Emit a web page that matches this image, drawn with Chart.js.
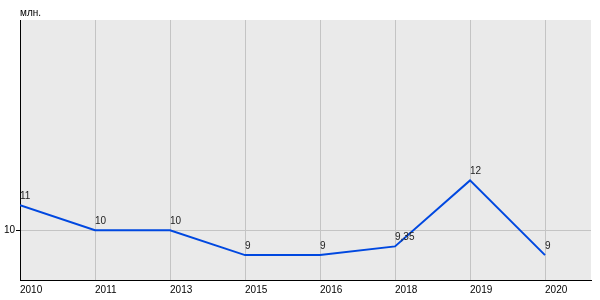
<!DOCTYPE html>
<html>
<head>
<meta charset="utf-8">
<script src="https://cdn.jsdelivr.net/npm/chart.js@4"></script>
<style>
  html, body { margin: 0; padding: 0; background: #fff; }
  canvas { display: block; }
</style>
</head>
<body>
<canvas id="grafico" width="600" height="300"></canvas>
<script>
const anios = ['2010', '2011', '2013', '2015', '2016', '2018', '2019', '2020']
const valores = [11, 10, 10, 9, 9, 9.35, 12, 9]
const etiquetas = ['11', '10', '10', '9', '9', '9,35', '12', '9']
const ticksY = [10]
const unidad = 'млн.'

const fuente = { family: 'Arial, "Liberation Sans", sans-serif', size: 10 }

// fondo gris del área de trazado
const fondo = {
  id: 'fondo',
  beforeDraw(chart) {
    const { ctx, chartArea: a } = chart
    ctx.save()
    ctx.fillStyle = '#eaeaea'
    ctx.fillRect(a.left, a.top, a.right - a.left, a.bottom - a.top)
    ctx.restore()
  }
}

// etiquetas de valores y unidad
const textos = {
  id: 'textos',
  afterDatasetsDraw(chart) {
    const { ctx } = chart
    const meta = chart.getDatasetMeta(0)
    ctx.save()
    ctx.font = '10px Arial, "Liberation Sans", sans-serif'
    ctx.fillStyle = '#222'
    ctx.textAlign = 'left'
    ctx.textBaseline = 'bottom'
    meta.data.forEach((p, i) => {
      ctx.fillText(etiquetas[i], p.x, p.y - 4)
    })
    ctx.fillStyle = '#000'
    ctx.textBaseline = 'alphabetic'
    ctx.fillText(unidad, 20, 16)
    ctx.restore()
  }
}

new Chart(document.getElementById('grafico'), {
  type: 'line',
  data: {
    datasets: [{
      data: valores.map((v, i) => ({ x: i, y: v })),
      borderColor: '#0048e0',
      borderWidth: 2,
      pointRadius: 0,
      tension: 0,
      fill: false
    }]
  },
  options: {
    responsive: false,
    animation: false,
    layout: { padding: { left: 0, top: 20, right: 9, bottom: 0 } },
    plugins: { legend: { display: false }, tooltip: { enabled: false } },
    scales: {
      x: {
        type: 'linear',
        min: 0,
        max: 7.613,
        afterBuildTicks: s => { s.ticks = anios.map((a, i) => ({ value: i })) },
        afterFit: s => { s.height = 20 },
        ticks: {
          callback: v => anios[v],
          color: '#000',
          font: fuente,
          align: 'start',
          maxRotation: 0,
          padding: 4
        },
        grid: { color: '#c4c4c4', lineWidth: 1, drawTicks: false },
        border: { color: '#000', width: 1 }
      },
      y: {
        min: 8,
        max: 18.44,
        afterBuildTicks: s => { s.ticks = ticksY.map(v => ({ value: v })) },
        afterFit: s => { s.width = 20 },
        ticks: { color: '#000', font: fuente, padding: 1 },
        grid: { color: '#c4c4c4', lineWidth: 1, drawTicks: true, tickLength: 4, tickColor: '#000' },
        border: { color: '#000', width: 1 }
      }
    }
  },
  plugins: [fondo, textos]
})
</script>
</body>
</html>
